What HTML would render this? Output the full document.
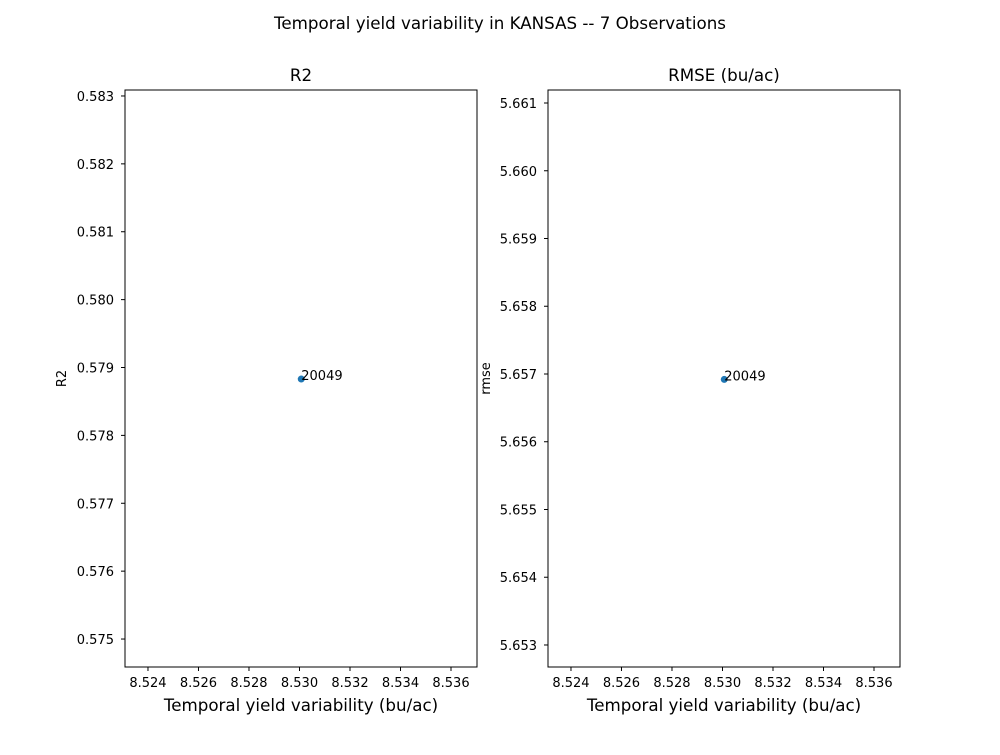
<!DOCTYPE html>
<html><head><meta charset="utf-8"><style>
body{margin:0;background:#fff;font-family:"Liberation Sans","DejaVu Sans",sans-serif;}
svg text{font-family:"DejaVu Sans","Liberation Sans",sans-serif;fill:#000;}
</style></head><body>
<svg id="chart" width="1000" height="750">
<text x="500" y="29" text-anchor="middle" font-size="16.7">Temporal yield variability in KANSAS -- 7 Observations</text>
</svg>
<script>
const xTicks=[8.524,8.526,8.528,8.530,8.532,8.534,8.536];
const r2Ticks=[0.575,0.576,0.577,0.578,0.579,0.580,0.581,0.582,0.583];
const rmseTicks=[5.653,5.654,5.655,5.656,5.657,5.658,5.659,5.660,5.661];
const pointX=[8.53007];
const pointR2=[0.57883];
const pointRMSE=[5.65692];
const pointLabels=["20049"];
const svg=document.getElementById('chart');
const NS='http://www.w3.org/2000/svg';
function mk(t,a,p){const e=document.createElementNS(NS,t);for(const k in a)e.setAttribute(k,a[k]);(p||svg).appendChild(e);return e;}
function panel(opt){
  const g=mk('g',{});
  
  
  const L=opt.x0,R=opt.x1,T=90,B=667;
  const sx=v=>L+(v-opt.xmin)/(opt.xmax-opt.xmin)*(R-L);
  const sy=v=>B-(v-opt.ymin)/(opt.ymax-opt.ymin)*(B-T);
  const fr=mk('rect',{x:L,y:T,width:R-L,height:B-T,fill:'none',stroke:'#000','stroke-width':1},g);
  
  
  xTicks.forEach(v=>{const x=sx(v);mk('line',{x1:x,x2:x,y1:B,y2:B+4,stroke:'#000'},g);
    const t=mk('text',{x:x,y:B+20,'text-anchor':'middle','font-size':13},g);t.textContent=v.toFixed(3);
    
    });
  opt.yTicks.forEach(v=>{const y=sy(v);mk('line',{x1:L-4,x2:L,y1:y,y2:y,stroke:'#000'},g);
    const t=mk('text',{x:L-11,y:y+5,'text-anchor':'end','font-size':13},g);t.textContent=v.toFixed(3);
    
    });
  const ti=mk('text',{x:(L+R)/2,y:T-9,'text-anchor':'middle','font-size':16.7},g);ti.textContent=opt.title;
  
  
  const xl=mk('text',{x:(L+R)/2,y:711,'text-anchor':'middle','font-size':16.7},g);xl.textContent='Temporal yield variability (bu/ac)';
  
  
  const yl=mk('text',{x:0,y:0,'text-anchor':'middle','font-size':13,transform:`translate(${opt.ylx},${(T+B)/2}) rotate(-90)`},g);yl.textContent=opt.ylabel;
  
  
  pointX.forEach((v,i)=>{const cx=sx(v),cy=sy(opt.ys[i]);
    const c=mk('circle',{cx:cx,cy:cy,r:3.5,fill:'#1f77b4'},g);
    
    
    const t=mk('text',{x:cx,y:cy+1,'font-size':13},g);t.textContent=pointLabels[i];
    
    });
}
panel({name:'r2-panel',x0:125,x1:477,xmin:8.52309,xmax:8.53703,ymin:0.574588,ymax:0.583088,yTicks:r2Ticks,ys:pointR2,title:'R2',ylabel:'R2',ylx:66});
panel({name:'rmse-panel',x0:548,x1:900,xmin:8.52309,xmax:8.53703,ymin:5.652675,ymax:5.661192,yTicks:rmseTicks,ys:pointRMSE,title:'RMSE (bu/ac)',ylabel:'rmse',ylx:490});
</script>
</body></html>
